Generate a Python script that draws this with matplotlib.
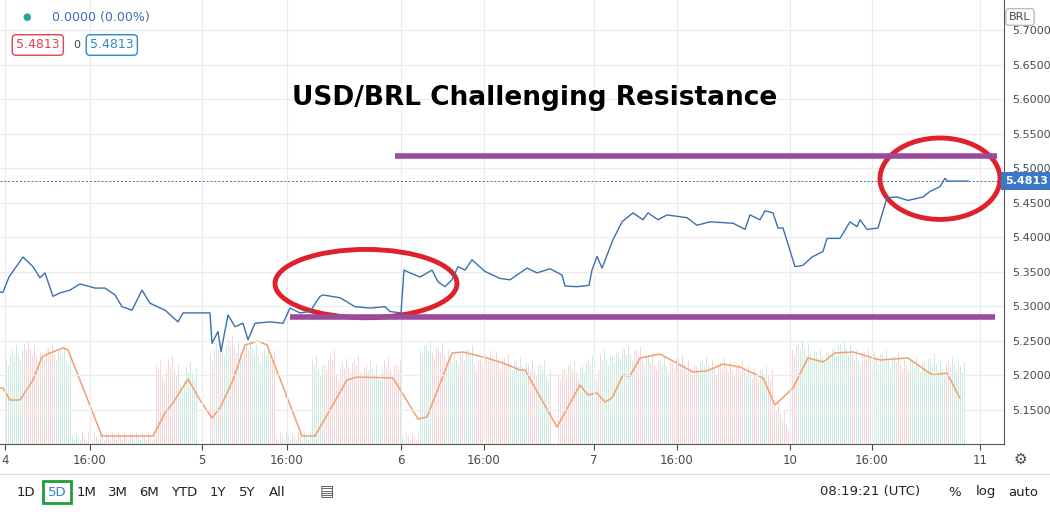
import matplotlib.pyplot as plt
import numpy as np
from matplotlib.patches import Ellipse

# --- Price (x in chart position, y in BRL) ---
price_x = [0, 3, 9, 23, 33, 40, 45, 53, 60, 70, 80, 95, 105, 115, 122, 132, 142, 150, 165, 178,
           183, 190, 210, 212, 218, 221, 228, 235, 243, 248, 255, 270, 283, 290, 300, 310, 320,
           323, 340, 355, 370, 385, 390, 401, 404, 410, 420, 432, 438, 445, 452, 458, 465, 472,
           485, 500, 510, 527, 537, 550, 562, 565, 577, 589, 592, 597, 602, 613, 622, 633, 643,
           648, 658, 667, 687, 697, 710, 733, 745, 750, 760, 765, 773, 778, 783, 795, 803, 812,
           823, 827, 840, 850, 857, 860, 867, 878, 887, 897, 908, 923, 930, 940, 945, 948, 968]
price_y = [5.320, 5.320, 5.342, 5.371, 5.357, 5.341, 5.348, 5.314, 5.319, 5.323, 5.332, 5.326,
           5.326, 5.316, 5.299, 5.294, 5.323, 5.304, 5.294, 5.277, 5.290, 5.290, 5.290, 5.246,
           5.263, 5.234, 5.287, 5.270, 5.275, 5.251, 5.275, 5.277, 5.275, 5.297, 5.290, 5.292,
           5.314, 5.316, 5.312, 5.299, 5.297, 5.299, 5.292, 5.290, 5.352, 5.348, 5.342, 5.352,
           5.335, 5.328, 5.338, 5.357, 5.352, 5.367, 5.350, 5.340, 5.338, 5.355, 5.348, 5.354,
           5.345, 5.329, 5.328, 5.330, 5.352, 5.372, 5.355, 5.396, 5.422, 5.435, 5.425, 5.435,
           5.425, 5.432, 5.428, 5.417, 5.422, 5.420, 5.411, 5.432, 5.425, 5.438, 5.435, 5.413,
           5.413, 5.357, 5.359, 5.371, 5.379, 5.398, 5.398, 5.422, 5.415, 5.425, 5.411, 5.413,
           5.457, 5.458, 5.453, 5.458, 5.466, 5.473, 5.485, 5.481, 5.481]

# --- Volume bars (height units), one bar every 6 positions per session block ---
vol_blocks = [
    (6, [85, 95, 90, 100, 95, 88, 92, 96, 90, 95, 85]),
    (72, [8] * 14),
    (156, [80, 70, 85, 75, 60, 78, 72]),
    (210, [90, 100, 95, 105, 98, 92, 100, 96, 88, 95, 90]),
    (276, [8] * 6),
    (312, [85, 75, 80, 90, 70, 82, 78, 85, 72, 80, 76, 70, 84, 75, 80]),
    (402, [8, 8, 8]),
    (420, [95, 100, 92, 98, 90, 88, 85, 90, 95, 80, 85, 90, 88, 82, 86, 80, 84, 78, 80, 75, 80, 70]),
    (558, [70, 75, 80, 72, 78, 85, 70]),
    (600, [90, 85, 88, 92, 95, 90, 94, 85]),
    (648, [88, 80, 85, 78, 82, 86, 80, 75, 78, 84, 80, 76, 82, 78, 74, 80, 76, 72, 70, 75, 70]),
    (774, [40, 30, 20]),
    (792, [95, 100, 96, 90, 92]),
    (822, [88, 92, 95, 100, 96, 90, 85, 92, 88, 86, 90, 84, 88, 80]),
    (906, [80, 84, 78, 82, 86, 80, 76, 84, 80, 78]),
]

# --- Volume moving average ---
ma_x = [0, 3, 10, 20, 33, 42, 50, 63, 68, 102, 153, 165, 173, 188, 200, 212, 220, 233, 245, 258,
        267, 302, 315, 347, 357, 393, 418, 427, 452, 463, 483, 503, 520, 525, 557, 580, 588, 597,
        605, 612, 623, 630, 640, 660, 693, 707, 723, 740, 763, 775, 793, 808, 823, 835, 853, 880,
        908, 925, 933, 947, 960]
ma_h = [56, 56, 44, 44, 64, 87, 91, 96, 94, 8, 8, 31, 41, 65, 44, 26, 36, 64, 99, 103, 99, 8, 8,
        64, 67, 66, 25, 27, 91, 92, 87, 81, 74, 74, 17, 59, 49, 51, 42, 46, 69, 68, 86, 90, 72, 73,
        80, 77, 66, 39, 56, 86, 82, 91, 92, 84, 86, 74, 69, 71, 46]

tick_pos = [5, 90, 202, 287, 401, 484, 594, 677, 790, 872, 980]
tick_lab = ["4", "16:00", "5", "16:00", "6", "16:00", "7", "16:00", "10", "16:00", "11"]
yticks = [5.15, 5.20, 5.25, 5.30, 5.35, 5.40, 5.45, 5.50, 5.55, 5.60, 5.65, 5.70]

GREY = "#4a4a4a"
fig = plt.figure(figsize=(10.5, 5.12), dpi=100)
ax = fig.add_axes([0, 68 / 512, 1004 / 1050, 444 / 512])
ax.set_xlim(0, 1004)
ax.set_ylim(5.10, 5.7435)
ax.grid(True, color="#ececec", lw=0.8)
ax.set_axisbelow(True)

# volume on a hidden twin axis
axv = ax.twinx()
axv.set_ylim(0, 444)
axv.axis("off")
px = np.array(price_x, float)
py = np.array(price_y, float)
bx, bh, bc = [], [], []
for start, hs in vol_blocks:
    for i, h in enumerate(hs):
        for k, dh in enumerate([0, -6, 4]):
            xb = start + 6 * i + 2 * k
            up = np.interp(xb + 2, px, py) >= np.interp(xb - 2, px, py)
            bx.append(xb)
            bh.append(max(h + dh, 4))
            bc.append("#c4e6da" if up else "#f6ccd0")
axv.vlines(bx, 0, bh, colors=bc, lw=0.6)
axv.plot(ma_x, ma_h, color="#f0a070", lw=1.1)
axv.set_xlim(0, 1004)

ax.set_zorder(axv.get_zorder() + 1)
ax.patch.set_visible(False)
ax.plot(price_x, price_y, color="#3c6fb0", lw=1.0)

# current price
ax.axhline(5.4813, color="#3c6fb0", lw=0.7, ls=(0, (2, 2)))
# support / resistance
ax.plot([395, 997], [5.518, 5.518], color="#9b4a9c", lw=4, solid_capstyle="butt")
ax.plot([290, 995], [5.284, 5.284], color="#9b4a9c", lw=4, solid_capstyle="butt")
for cx, cy, w, h in [(366, 5.3325, 182, 0.099), (940, 5.4845, 120, 0.118)]:
    ax.add_patch(Ellipse((cx, cy), w, h, fill=False, ec="#e0202a", lw=3.5))

ax.text(535, 5.602, "USD/BRL Challenging Resistance", ha="center", va="center",
        fontsize=19, fontweight="bold", color="black")

ax.set_xticks(tick_pos)
ax.set_xticklabels(tick_lab)
ax.set_yticks(yticks)
ax.set_yticklabels([f"{v:.4f}" for v in yticks])
ax.yaxis.tick_right()
ax.tick_params(colors=GREY, labelsize=8.5, length=4)
ax.tick_params(axis="y", length=0, pad=6, labelsize=8)
for s in ["left", "top"]:
    ax.spines[s].set_visible(False)
for s in ["right", "bottom"]:
    ax.spines[s].set_color("#555555")

# price tag on right
fig.text(1005 / 1050, 1 - 181 / 512, "5.4813", color="white", fontsize=8, fontweight="bold",
         va="center", ha="left", bbox=dict(boxstyle="square,pad=0.35", fc="#3c78c8", ec="none"))
fig.text(1020 / 1050, 1 - 17 / 512, "BRL", color=GREY, fontsize=8, ha="center", va="center",
         bbox=dict(boxstyle="round,pad=0.3", fc="white", ec="#bbbbbb"))

# top-left legend
fig.text(27 / 1050, 1 - 17 / 512, "●", color="#26a69a", fontsize=7, ha="center", va="center")
fig.text(52 / 1050, 1 - 17 / 512, "0.0000 (0.00%)", color="#3c6fb0", fontsize=9, va="center")
fig.text(16 / 1050, 1 - 45 / 512, "5.4813", color="#e04050", fontsize=9, va="center",
         bbox=dict(boxstyle="round,pad=0.3", fc="white", ec="#e04050"))
fig.text(73 / 1050, 1 - 45 / 512, "0", color=GREY, fontsize=8, va="center")
fig.text(90 / 1050, 1 - 45 / 512, "5.4813", color="#2f86c8", fontsize=9, va="center",
         bbox=dict(boxstyle="round,pad=0.3", fc="white", ec="#2f86c8"))

# bottom toolbar
fig.add_artist(plt.Line2D([0, 1], [1 - 474 / 512] * 2, color="#dddddd", lw=1))
fig.text(1020 / 1050, 1 - 459 / 512, "⚙", color=GREY, fontsize=11, ha="center", va="center")
for lab, xp in zip(["1D", "5D", "1M", "3M", "6M", "YTD", "1Y", "5Y", "All"],
                   [26, 57, 87, 118, 149, 184, 218, 247, 277]):
    kw = {}
    if lab == "5D":
        kw["bbox"] = dict(boxstyle="square,pad=0.35", fc="white", ec="#1e9e3a", lw=2)
    fig.text(xp / 1050, 1 - 492 / 512, lab, color="#2f86c8" if lab == "5D" else "#222222",
             fontsize=9.5, ha="center", va="center", **kw)
fig.text(327 / 1050, 1 - 492 / 512, "▤", color=GREY, fontsize=11, ha="center", va="center")
fig.text(870 / 1050, 1 - 492 / 512, "08:19:21 (UTC)", color="#222222", fontsize=9.5, ha="center", va="center")
for lab, xp in [("%", 955), ("log", 986), ("auto", 1023)]:
    fig.text(xp / 1050, 1 - 492 / 512, lab, color="#222222", fontsize=9.5, ha="center", va="center")

fig.savefig("out.png", dpi=100)
